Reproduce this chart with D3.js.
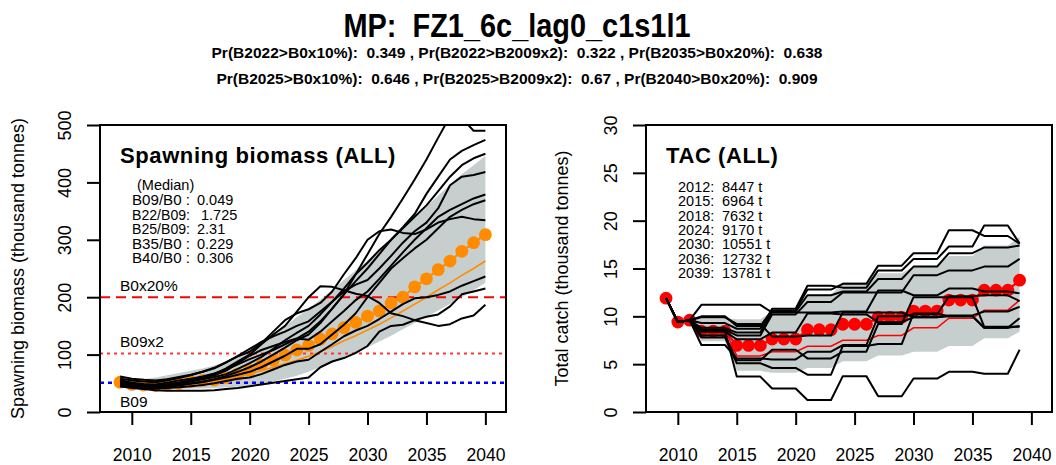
<!DOCTYPE html>
<html><head><meta charset="utf-8">
<script src="https://cdn.jsdelivr.net/npm/d3@7"></script>
<style>
body{margin:0;background:#fff}
svg{display:block}
text{font-family:"Liberation Sans",Arial,Helvetica,sans-serif;fill:#000;white-space:pre}
</style>
</head><body>
<svg id="chart" width="1056" height="465"></svg>
<script>
// ---------------- DATA ----------------
const titleText = "MP:  FZ1_6c_lag0_c1s1l1";
const subLine1 = "Pr(B2022>B0x10%):  0.349 , Pr(B2022>B2009x2):  0.322 , Pr(B2035>B0x20%):  0.638";
const subLine2 = "Pr(B2025>B0x10%):  0.646 , Pr(B2025>B2009x2):  0.67 , Pr(B2040>B0x20%):  0.909";

const xTicks = [2010, 2015, 2020, 2025, 2030, 2035, 2040];
const bioTicks = [0, 100, 200, 300, 400, 500];
const tacTicks = [0, 5, 10, 15, 20, 25, 30];

const bioYears = [2009,2010,2011,2012,2013,2014,2015,2016,2017,2018,2019,2020,2021,2022,2023,2024,2025,2026,2027,2028,2029,2030,2031,2032,2033,2034,2035,2036,2037,2038,2039,2040];
const bioMedian = [52,48,47,46,48,50,53,55,56,60,66,73,82,90,99,108,116,127,136,147,156,167,176,190,200,218,232,248,263,280,295,309];
const bioMean   = [52,48,46,45,46,48,50,52,54,57,61,66,72,78,84,90,97,105,114,124,133,143,153,164,176,188,200,213,225,238,250,263];
const bioLow    = [52,42,40,39,40,40,41,41,42,43,44,46,49,53,58,63,70,78,86,95,104,113,123,133,144,155,166,177,188,200,212,225];
const bioHigh   = [52,56,57,60,64,68,72,76,81,88,97,108,121,135,150,165,180,196,213,230,247,264,283,301,320,339,358,377,396,414,430,446];
const bioRefLines = [200, 102, 51];
const bioRefLabels = ["B0x20%", "B09x2", "B09"];

const bioTraj1  = [55,51,49,48,51,55,58,62,67,74,83,92,100,108,118,128,140,158,180,205,240,275,310,340,372,405,440,478,515,512,490,490];
const bioTraj2  = [50,47,45,44,46,49,53,57,61,66,75,85,96,110,125,138,150,170,192,215,240,260,282,300,322,345,380,410,440,455,465,474];
const bioTraj3  = [48,45,44,43,45,47,50,53,57,63,70,78,88,100,112,125,135,155,180,205,228,250,275,300,320,340,360,385,410,430,442,450];
const bioTraj4  = [62,58,56,55,57,61,65,70,76,86,98,110,122,132,140,150,158,175,192,210,222,230,250,272,295,315,330,355,395,410,413,418];
const bioTraj5  = [52,49,47,46,48,51,55,59,64,72,85,98,108,115,122,128,126,140,158,176,195,210,232,255,278,300,320,340,352,362,372,379];
const bioTraj6  = [45,43,42,41,43,46,49,52,56,60,65,70,78,88,98,110,110,118,135,152,172,200,225,250,268,285,300,320,340,352,362,369];
const bioTraj7  = [58,55,53,52,55,59,64,70,77,87,97,105,120,140,160,172,179,190,210,240,268,300,315,318,312,310,318,330,336,340,336,334];
const bioTraj8  = [47,44,42,41,42,43,45,47,50,54,58,60,66,74,82,88,91,105,118,132,142,150,162,175,188,198,200,204,210,220,228,236];
const bioTraj9  = [45,42,40,38,37,37,37,37,38,40,42,45,48,51,54,57,60,78,88,94,103,115,140,150,152,160,166,170,184,205,210,215];
const bioTraj10 = [55,50,47,46,48,51,55,60,66,76,88,100,118,135,150,175,200,219,218,212,206,202,190,172,167,160,155,150,153,163,168,187];
const bioTrajectories = [bioTraj1,bioTraj2,bioTraj3,bioTraj4,bioTraj5,bioTraj6,bioTraj7,bioTraj8,bioTraj9,bioTraj10];

const bioStatsHead = "(Median)";
const bioStatLabels = ["B09/B0 :", "B22/B09:", "B25/B09:", "B35/B0 :", "B40/B0 :"];
const bioStatValues = ["0.049", "1.725", "2.31", "0.229", "0.306"];

const tacYears = [2009,2010,2011,2012,2013,2014,2015,2016,2017,2018,2019,2020,2021,2022,2023,2024,2025,2026,2027,2028,2029,2030,2031,2032,2033,2034,2035,2036,2037,2038,2039];
const tacMedian = [11.9,9.4,9.6,8.45,8.45,8.45,6.96,6.96,6.96,7.63,7.63,7.63,8.6,8.6,8.6,9.17,9.17,9.17,9.9,9.9,9.9,10.55,10.55,10.55,11.7,11.7,11.7,12.73,12.73,12.73,13.78];
const tacMean   = [11.9,9.4,9.6,8.6,8.6,8.6,5.86,5.86,5.86,6.3,6.3,6.3,6.87,6.87,6.87,7.5,7.5,7.5,8.0,8.0,8.0,8.8,8.8,8.8,9.8,9.8,9.8,10.64,10.64,10.64,11.7];
const tacLow    = [11.9,9.4,9.6,7.4,7.4,7.4,4.3,4.3,4.3,4.1,4.1,4.1,4.6,4.6,4.6,5.3,5.3,5.3,5.9,5.9,5.9,6.3,6.3,6.3,6.9,6.9,6.9,7.7,7.7,7.7,8.4];
const tacHigh   = [11.9,9.4,9.6,9.8,9.8,9.8,9.7,9.7,9.7,10.5,10.5,10.5,12.2,12.2,12.2,13.6,13.6,13.6,14.5,14.5,14.5,15.2,15.2,15.2,16.3,16.3,16.3,17.4,17.4,17.4,18.3];

const tacTraj1  = [11.9,9.4,9.6,10.0,10.0,10.0,9.0,9.0,9.0,10.6,10.6,10.6,12.8,12.8,12.8,13.4,13.4,13.4,15.3,15.3,15.3,16.6,16.6,16.6,19.0,19.0,19.0,18.4,18.4,18.4,17.6];
const tacTraj2  = [11.9,9.4,9.6,9.3,9.3,9.3,8.7,8.7,8.7,10.8,10.8,10.8,13.2,13.2,13.2,13.0,13.0,13.0,14.8,14.8,14.8,16.0,16.0,16.0,17.3,17.3,17.3,19.5,19.5,19.5,17.6];
const tacTraj3  = [11.9,9.4,9.6,8.8,8.8,8.8,8.3,8.3,8.3,10.5,10.5,10.5,12.2,12.2,12.2,12.6,12.6,12.6,13.9,13.9,13.9,15.2,15.2,15.2,16.6,16.6,16.6,17.2,17.2,17.2,17.4];
const tacTraj4  = [11.9,9.4,9.6,8.6,8.6,8.6,8.0,8.0,8.0,10.2,10.2,10.2,11.5,11.5,11.5,12.5,12.5,12.5,12.5,12.5,12.5,14.3,14.3,14.3,14.8,14.8,14.8,15.2,15.2,15.2,16.0];
const tacTraj5  = [11.9,9.4,9.6,11.2,11.2,11.2,11.2,11.2,11.2,10.4,10.4,10.4,10.4,10.4,10.4,10.5,10.5,10.5,12.7,12.7,12.7,12.2,12.2,12.2,12.9,12.9,12.9,12.6,12.6,12.6,12.4];
const tacTraj6  = [11.9,9.4,9.6,8.4,8.4,8.4,7.6,7.6,7.6,8.3,8.3,8.3,10.3,10.3,10.3,10.2,10.2,10.2,9.4,9.4,9.4,9.9,9.9,9.9,10.1,10.1,10.1,10.5,10.5,10.5,11.0];
const tacTraj7  = [11.9,9.4,9.6,9.9,9.9,9.9,9.2,9.2,9.2,7.9,7.9,7.9,8.0,8.0,8.0,10.4,10.4,10.4,10.4,10.4,10.4,9.9,9.9,9.9,10.0,10.0,10.0,8.8,8.8,8.8,9.8];
const tacTraj8  = [11.9,9.4,9.6,8.0,8.0,8.0,5.4,5.4,5.4,6.5,6.5,6.5,5.6,5.6,5.6,6.3,6.3,6.3,9.2,9.2,9.2,12.0,12.0,12.0,12.0,12.0,12.0,8.9,8.9,8.9,8.9];
const tacTraj9  = [11.9,9.4,9.6,7.8,7.8,7.8,5.1,5.1,5.1,4.6,4.6,4.6,3.9,3.9,3.9,6.9,6.9,6.9,7.1,7.1,7.1,10.3,10.3,10.3,10.0,10.0,10.0,8.8,8.8,8.8,9.0];
const tacTraj10 = [11.9,9.4,9.6,8.5,8.5,8.5,3.7,3.7,3.7,2.45,2.45,2.45,1.25,1.25,1.25,3.75,3.75,3.75,1.65,1.65,1.65,3.5,3.5,3.5,4.2,4.2,4.2,4.0,4.0,4.0,6.5];
const tacTraj11 = [11.9,9.4,9.6,7.0,7.0,7.0,5.6,5.6,5.6,5.5,5.5,5.5,6.3,6.3,6.3,7.0,7.0,7.0,10.0,10.0,10.0,10.2,10.2,10.2,12.1,12.1,12.1,12.2,12.2,12.2,11.6];
const tacTrajectories = [tacTraj1,tacTraj2,tacTraj3,tacTraj4,tacTraj5,tacTraj6,tacTraj7,tacTraj8,tacTraj9,tacTraj10,tacTraj11];

const tacStatYears = ["2012:", "2015:", "2018:", "2024:", "2030:", "2036:", "2039:"];
const tacStatValues = ["8447 t", "6964 t", "7632 t", "9170 t", "10551 t", "12732 t", "13781 t"];

// ---------------- DRAW ----------------
const svg = d3.select("#chart");

svg.append("text").attr("x", 517).attr("y", 37).attr("text-anchor","middle")
  .attr("font-size", 34).attr("font-weight","bold")
  .attr("textLength", 347).attr("lengthAdjust","spacingAndGlyphs").text(titleText);
svg.append("text").attr("x", 517).attr("y", 58).attr("text-anchor","middle")
  .attr("font-size", 15.5).attr("font-weight","bold")
  .attr("textLength", 611).attr("lengthAdjust","spacingAndGlyphs").text(subLine1);
svg.append("text").attr("x", 517).attr("y", 84).attr("text-anchor","middle")
  .attr("font-size", 15.5).attr("font-weight","bold")
  .attr("textLength", 601).attr("lengthAdjust","spacingAndGlyphs").text(subLine2);

const defs = svg.append("defs");

function panel(cfg) {
  const x = d3.scaleLinear().domain([2007.3, 2041.75]).range([cfg.left, cfg.left + 406]);
  const y = d3.scaleLinear().domain([0, cfg.ymax]).range([412, 125]);
  const g = svg.append("g");
  defs.append("clipPath").attr("id", cfg.id).append("rect")
    .attr("x", cfg.left).attr("y", 125).attr("width", 406).attr("height", 287);
  const pg = g.append("g").attr("clip-path", `url(#${cfg.id})`);

  const area = d3.area().x((d,i)=>x(cfg.years[i])).y0((d,i)=>y(cfg.low[i])).y1((d,i)=>y(cfg.high[i]));
  pg.append("path").datum(cfg.low).attr("d", area).attr("fill", "#c6cfce").attr("stroke","none");

  (cfg.refs || []).forEach(r => {
    pg.append("line").attr("x1", cfg.left).attr("x2", cfg.left+406)
      .attr("y1", y(r.v)).attr("y2", y(r.v))
      .attr("stroke", r.color).attr("stroke-width", r.w).attr("stroke-dasharray", r.dash);
  });

  pg.selectAll("circle.med").data(cfg.median).enter().append("circle")
    .attr("cx", (d,i)=>x(cfg.years[i])).attr("cy", d=>y(d)).attr("r", 6.4)
    .attr("fill", cfg.color);
  const line = d3.line().x((d,i)=>x(cfg.years[i])).y(d=>y(d));
  pg.append("path").datum(cfg.median).attr("d", line).attr("fill","none")
    .attr("stroke", cfg.color).attr("stroke-width", 2.2);
  pg.append("path").datum(cfg.mean).attr("d", line).attr("fill","none")
    .attr("stroke", cfg.color).attr("stroke-width", 1.6);

  cfg.trajs.forEach(t => {
    pg.append("path").datum(t).attr("d", line).attr("fill","none")
      .attr("stroke", "#000").attr("stroke-width", 2).attr("stroke-linejoin","round");
  });

  g.append("rect").attr("x", cfg.left).attr("y", 125).attr("width", 406).attr("height", 287)
    .attr("fill","none").attr("stroke","#000").attr("stroke-width", 2);

  const xa = g.append("g").attr("transform", "translate(0,412)")
    .call(d3.axisBottom(x).tickValues(xTicks).tickFormat(d3.format("d")).tickSize(13).tickSizeOuter(0));
  xa.select(".domain").remove();
  xa.selectAll(".tick line").attr("stroke","#000").attr("stroke-width", 2);
  xa.selectAll(".tick text").attr("y", 36).attr("dy","0.71em")
    .attr("font-size", 18.5).attr("font-family", null).attr("fill","#000")
    .attr("textLength", 39).attr("lengthAdjust","spacingAndGlyphs");

  const ya = g.append("g").attr("transform", `translate(${cfg.left},0)`)
    .call(d3.axisLeft(y).tickValues(cfg.yTicks).tickSize(13).tickSizeOuter(0));
  ya.select(".domain").remove();
  ya.selectAll(".tick line").attr("stroke","#000").attr("stroke-width", 2);
  ya.selectAll(".tick text").attr("x", 0).attr("y", -29).attr("dy", null)
    .attr("transform","rotate(-90)").attr("text-anchor","middle")
    .attr("font-size", 18).attr("font-family", null).attr("fill","#000");

  svg.append("text").attr("transform", `translate(${cfg.ytitleX},268.5) rotate(-90)`)
    .attr("text-anchor","middle").attr("font-size", 18).text(cfg.ytitle);

  svg.append("text").attr("x", cfg.left + 20).attr("y", 163).attr("font-size", 22)
    .attr("font-weight","bold").attr("letter-spacing", 0.6).text(cfg.heading);
  return {x, y, g};
}

const L = panel({
  id: "clipL", left: 100, ymax: 500, years: bioYears, low: bioLow, high: bioHigh,
  median: bioMedian, mean: bioMean, trajs: bioTrajectories, color: "#ff8c00",
  yTicks: bioTicks, ytitle: "Spawning biomass (thousand tonnes)", ytitleX: 24,
  heading: "Spawning biomass (ALL)",
  refs: [
    {v: bioRefLines[0], color: "#ff0000", w: 2, dash: "10,6"},
    {v: bioRefLines[1], color: "#ff3333", w: 2, dash: "3,4"},
    {v: bioRefLines[2], color: "#0000ff", w: 2.4, dash: "4,4"}
  ]
});

const refLabelY = [L.y(bioRefLines[0]) - 6, L.y(bioRefLines[1]) - 6, L.y(bioRefLines[2]) + 24];
bioRefLabels.forEach((t,i) => {
  svg.append("text").attr("x", 120).attr("y", refLabelY[i]).attr("font-size", 15.5).text(t);
});
svg.append("text").attr("x", 137).attr("y", 190).attr("font-size", 14.5).text(bioStatsHead);
const statValueX = [197, 201, 197, 197, 197];
bioStatLabels.forEach((t,i) => {
  svg.append("text").attr("x", 132).attr("y", 205 + i*14.6).attr("font-size", 14.5)
    .attr("textLength", 58).attr("lengthAdjust","spacingAndGlyphs").text(t);
  svg.append("text").attr("x", statValueX[i]).attr("y", 205 + i*14.6).attr("font-size", 14.5).text(bioStatValues[i]);
});

const R = panel({
  id: "clipR", left: 646, ymax: 30, years: tacYears, low: tacLow, high: tacHigh,
  median: tacMedian, mean: tacMean, trajs: tacTrajectories, color: "#ff0000",
  yTicks: tacTicks, ytitle: "Total catch (thousand tonnes)", ytitleX: 568,
  heading: "TAC (ALL)", refs: []
});
tacStatYears.forEach((t,i) => {
  svg.append("text").attr("x", 678).attr("y", 192 + i*14.3).attr("font-size", 14.5).text(t);
  svg.append("text").attr("x", 722).attr("y", 192 + i*14.3).attr("font-size", 14.5).text(tacStatValues[i]);
});
</script>
</body></html>
